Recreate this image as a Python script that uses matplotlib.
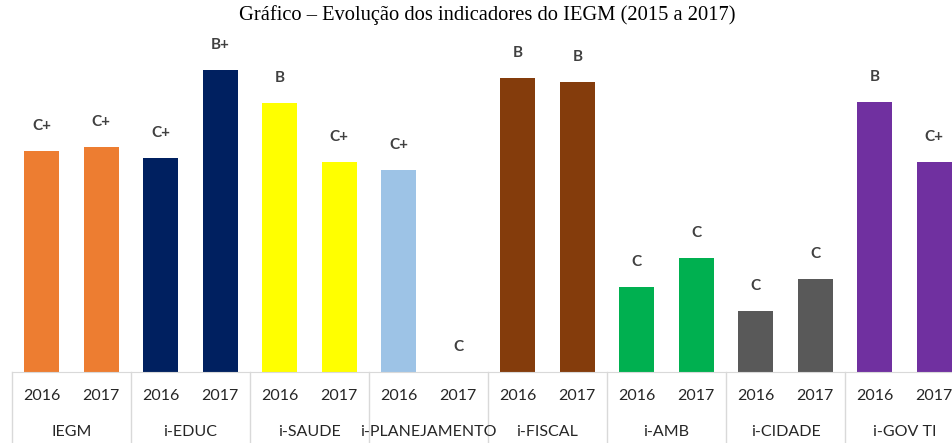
import matplotlib.pyplot as plt
import numpy as np
from matplotlib.transforms import blended_transform_factory

# data (percent of the index)
groups = ["IEGM", "i-EDUC", "i-SAUDE", "i-PLANEJAMENTO", "i-FISCAL", "i-AMB", "i-CIDADE", "i-GOV TI"]
years = ["2016", "2017"]
values_2016 = [55.7, 53.9, 67.8, 50.9, 74.1, 21.4, 15.4, 68.0]
values_2017 = [56.7, 76.1, 52.9, 0.0, 73.0, 28.7, 23.4, 52.9]
grades_2016 = ["C+", "C+", "B", "C+", "B", "C", "C", "B"]
grades_2017 = ["C+", "B+", "C+", "C", "B", "C", "C", "C+"]
colors = ["#ED7D31", "#002060", "#FFFF00", "#9DC3E6", "#843C0C", "#00B050", "#595959", "#7030A0"]

W, H = 952, 443
fig = plt.figure(figsize=(W / 100, H / 100), dpi=100)
base_y, top_y = 372, 40
ax = fig.add_axes([12 / W, (H - base_y) / H, 952 / W, (base_y - top_y) / H])

n = len(groups)
vals, grades, cols, labels = [], [], [], []
for i in range(n):
    vals += [values_2016[i], values_2017[i]]
    grades += [grades_2016[i], grades_2017[i]]
    cols += [colors[i], colors[i]]
    labels += years
x = np.arange(2 * n)

bars = ax.bar(x, vals, width=0.59, color=cols, edgecolor="none")
for b, g in zip(bars, grades):
    ax.annotate(g, (b.get_x() + b.get_width() / 2, b.get_height()),
                xytext=(0, 13), textcoords="offset points", ha="center", va="bottom",
                fontsize=11, fontweight="bold", color="#404040", family="Lato")

ax.set_xlim(-0.5, 2 * n - 0.5)
ax.set_ylim(0, (base_y - top_y) / 3.97)
ax.set_yticks([])
for s in ["top", "right", "left"]:
    ax.spines[s].set_visible(False)
ax.spines["bottom"].set_color("#d9d9d9")

ax.set_xticks(x)
ax.set_xticklabels(labels, fontsize=11.5, color="#262626", family="Lato")
ax.tick_params(axis="x", length=0, pad=12)

trans = blended_transform_factory(ax.transData, ax.transAxes)
ax_h = base_y - top_y
for k in range(n + 1):
    ax.plot([2 * k - 0.5, 2 * k - 0.5], [0, -0.3], transform=trans,
            color="#d9d9d9", lw=1, clip_on=False)
for i, g in enumerate(groups):
    ax.text(2 * i + 0.5, -60 / ax_h, g, transform=trans, ha="center", va="center",
            fontsize=11.5, color="#262626", family="Lato")

fig.text(487 / W, 1 - 15 / H, "Gráfico – Evolução dos indicadores do IEGM (2015 a 2017)",
         ha="center", va="center", fontsize=14.8, family="Liberation Serif", color="#000000")

fig.savefig("out.png", dpi=100)
